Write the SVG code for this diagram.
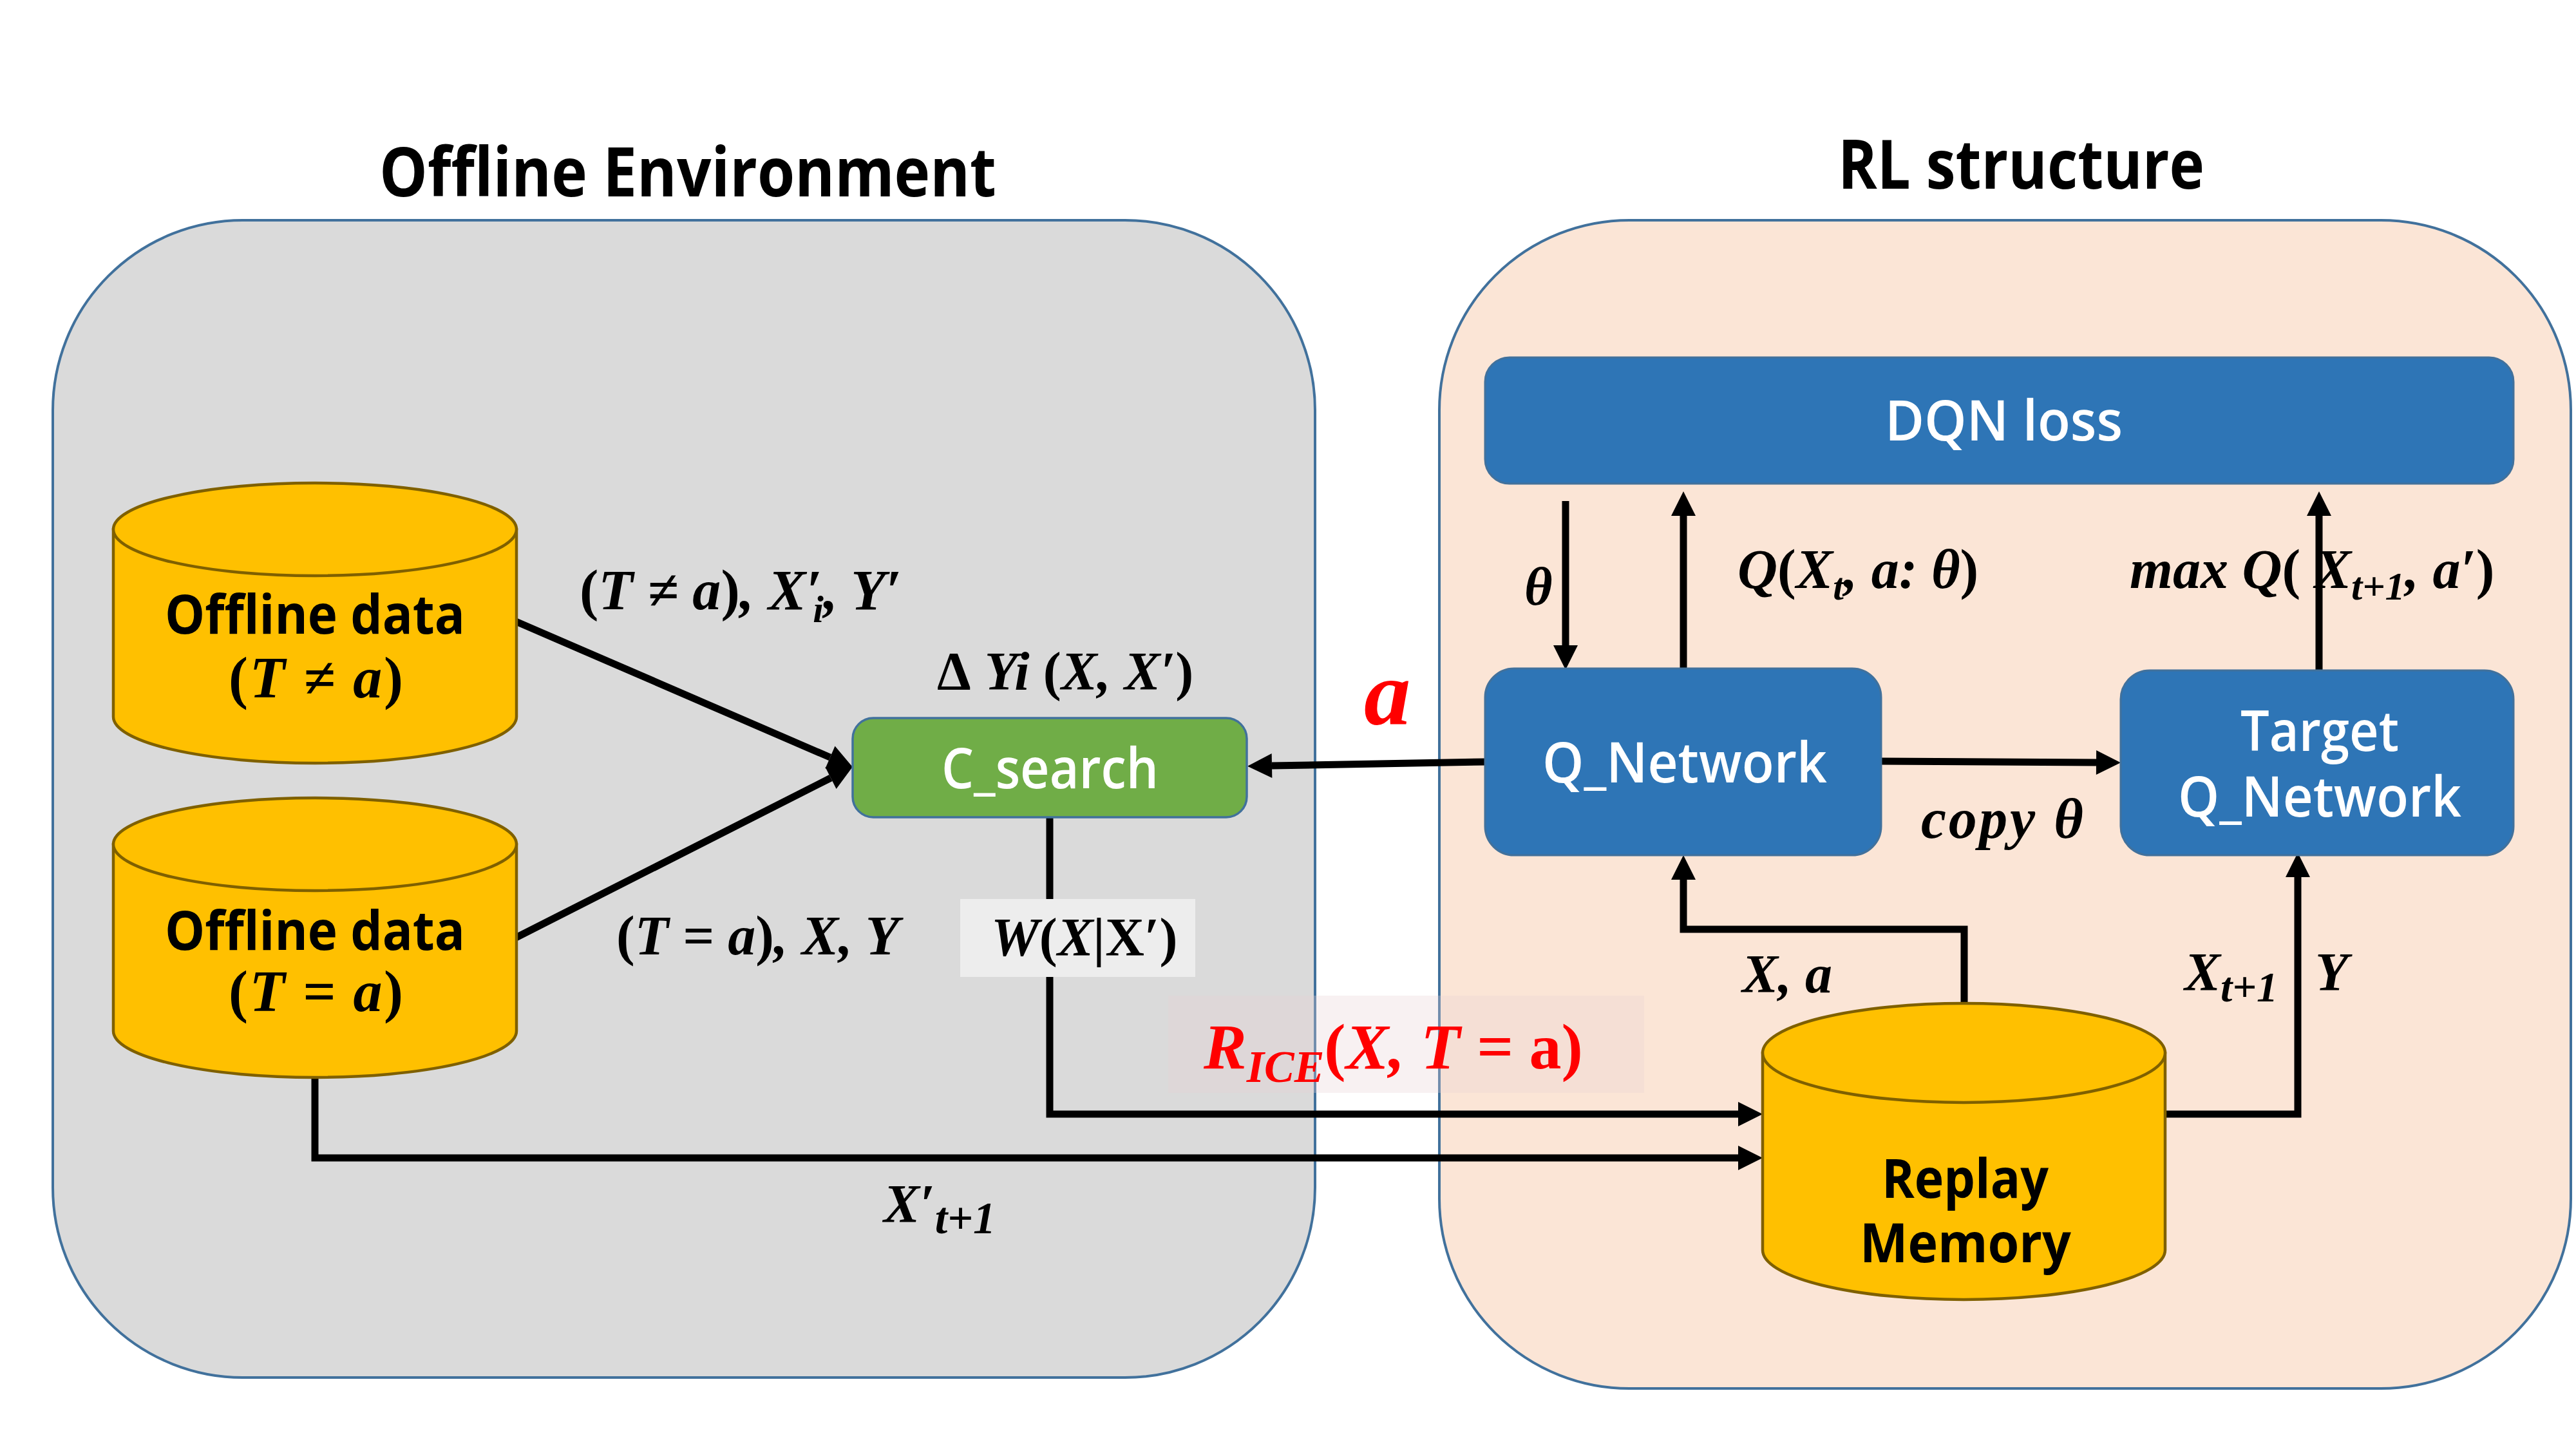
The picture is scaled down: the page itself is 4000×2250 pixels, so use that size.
<svg xmlns="http://www.w3.org/2000/svg" width="4000" height="2250" viewBox="0 0 4000 2250">
<defs>
<marker id="ah" markerUnits="userSpaceOnUse" markerWidth="38" markerHeight="38" refX="0" refY="19" orient="auto" overflow="visible">
<path d="M0,0 L38,19 L0,38 Z" fill="#000"/>
</marker>
<style>
.panel{stroke:#41719C;stroke-width:4}
.title{font-family:"Open Sans","Liberation Sans",sans-serif;font-weight:700;font-size:105px;fill:#000}
.box{fill:#2E75B6;stroke:#41719C;stroke-width:3}
.wlabel{font-family:"Open Sans","Liberation Sans",sans-serif;font-weight:600;font-size:86px;fill:#fff}
.cyl{fill:#FFC000;stroke:#7F6000;stroke-width:4.5}
.clabel{font-family:"Open Sans","Liberation Sans",sans-serif;font-weight:700;font-size:84px;fill:#000}
.math{font-family:"Liberation Serif","Times New Roman",serif;font-weight:700;font-style:italic;font-size:84px;fill:#000}
.up{font-style:normal}
.conn{fill:none;stroke:#000;stroke-width:11;stroke-linejoin:miter}
</style>
</defs>
<rect width="4000" height="2250" fill="#fff"/>

<g id="panels">
<g id="offline-environment">
<rect class="panel" x="82" y="342" width="1960" height="1797" rx="295" ry="295" fill="#DADADA"/>
<text class="title" x="589" y="305" textLength="958" lengthAdjust="spacingAndGlyphs">Offline Environment</text>
</g>
<g id="rl-structure">
<rect class="panel" x="2235" y="342" width="1757" height="1814" rx="295" ry="295" fill="#FBE5D6"/>
<text class="title" x="2854" y="293" textLength="569" lengthAdjust="spacingAndGlyphs">RL structure</text>
</g>
</g>

<g id="connectors">
<line class="conn" x1="801" y1="965" x2="1289" y2="1176" marker-end="url(#ah)"/>
<line class="conn" x1="801" y1="1456" x2="1290" y2="1208" marker-end="url(#ah)"/>
<line class="conn" x1="2306" y1="1183" x2="1975" y2="1189" marker-end="url(#ah)"/>
<line class="conn" x1="2921" y1="1182" x2="3255" y2="1184" marker-end="url(#ah)"/>
<line class="conn" x1="2431" y1="778" x2="2431" y2="1002" marker-end="url(#ah)"/>
<line class="conn" x1="2614" y1="1038" x2="2614" y2="801" marker-end="url(#ah)"/>
<line class="conn" x1="3601" y1="1041" x2="3601" y2="801" marker-end="url(#ah)"/>
<path class="conn" d="M1630,1270 V1730 H2699" marker-end="url(#ah)"/>
<path class="conn" d="M489,1673 V1798 H2699" marker-end="url(#ah)"/>
<path class="conn" d="M3050,1558 V1443 H2614 V1366" marker-end="url(#ah)"/>
<path class="conn" d="M3362,1730 H3568 V1362" marker-end="url(#ah)"/>
</g>

<g id="offline-data-neq">
<path class="cyl" d="M176,822 V1113 A313,72 0 0 0 802,1113 V822 Z"/>
<ellipse class="cyl" cx="489" cy="822" rx="313" ry="72"/>
<text class="clabel" x="256" y="984" textLength="466" lengthAdjust="spacingAndGlyphs">Offline data</text>
<text class="math" x="355" y="1083" textLength="271" style="font-size:90px"><tspan class="up">(</tspan>T ≠ a<tspan class="up">)</tspan></text>
</g>

<g id="offline-data-eq">
<path class="cyl" d="M176,1311 V1601 A313,72 0 0 0 802,1601 V1311 Z"/>
<ellipse class="cyl" cx="489" cy="1311" rx="313" ry="72"/>
<text class="clabel" x="256" y="1475" textLength="466" lengthAdjust="spacingAndGlyphs">Offline data</text>
<text class="math" x="355" y="1570" textLength="271" style="font-size:90px"><tspan class="up">(</tspan>T = a<tspan class="up">)</tspan></text>
</g>

<g id="c-search">
<rect x="1324" y="1115" width="612" height="154" rx="32" fill="#70AD47" stroke="#41719C" stroke-width="3.5"/>
<text class="wlabel" x="1462" y="1224" textLength="337" lengthAdjust="spacingAndGlyphs">C_search</text>
</g>

<g id="w-label">
<rect x="1491" y="1396" width="365" height="121" fill="#EDEDED"/>
<text class="math" x="1539" y="1484">W<tspan class="up">(</tspan>X|<tspan class="up">X′)</tspan></text>
</g>

<g id="dqn-loss">
<rect class="box" x="2306" y="555" width="1597" height="196" rx="38"/>
<text class="wlabel" x="2927" y="684" textLength="369" lengthAdjust="spacingAndGlyphs">DQN loss</text>
</g>

<g id="q-network">
<rect class="box" x="2306" y="1038" width="615" height="290" rx="45"/>
<text class="wlabel" x="2395" y="1215" textLength="442" lengthAdjust="spacingAndGlyphs">Q_Network</text>
</g>

<g id="target-q-network">
<rect class="box" x="3293" y="1041" width="610" height="287" rx="45"/>
<text class="wlabel" x="3479" y="1166" textLength="246" lengthAdjust="spacingAndGlyphs">Target</text>
<text class="wlabel" x="3382" y="1268" textLength="440" lengthAdjust="spacingAndGlyphs">Q_Network</text>
</g>

<g id="replay-memory">
<path class="cyl" d="M2737,1635 V1941 A312.5,77 0 0 0 3362,1941 V1635 Z"/>
<ellipse class="cyl" cx="3049.5" cy="1635" rx="312.5" ry="77"/>
<text class="clabel" x="2922" y="1860" textLength="259" lengthAdjust="spacingAndGlyphs">Replay</text>
<text class="clabel" x="2888" y="1960" textLength="328" lengthAdjust="spacingAndGlyphs">Memory</text>
</g>

<g id="r-ice">
<rect x="1814" y="1546" width="739" height="151" fill="#E7CFD3" fill-opacity="0.3"/>
<text class="math" x="1869" y="1659" style="fill:#FF0000;font-size:100px">R<tspan font-size="70" dy="21">ICE</tspan><tspan class="up" dy="-21">(</tspan>X, T = <tspan class="up">a)</tspan></text>
</g>

<g id="labels">
<text class="math" x="900" y="946" style="font-size:88px"><tspan class="up">(</tspan>T ≠ a<tspan class="up">)</tspan>, X′<tspan font-size="60" dx="-14" dy="20">i</tspan><tspan dy="-20">, Y′</tspan></text>
<text class="math" x="1455" y="1071"><tspan class="up">Δ</tspan> Yi <tspan class="up">(</tspan>X, X′<tspan class="up">)</tspan></text>
<text class="math" x="957" y="1482" style="font-size:86px"><tspan class="up">(</tspan>T = a<tspan class="up">)</tspan>, X, Y</text>
<text class="math" x="2118" y="1125" style="fill:#FF0000;font-size:145px">a</text>
<text class="math" x="2367" y="939">θ</text>
<text class="math" x="2698" y="913" style="font-size:86px">Q<tspan class="up">(</tspan>X<tspan font-size="60" dy="18">t</tspan><tspan dy="-18">, a: θ</tspan><tspan class="up">)</tspan></text>
<text class="math" x="3307" y="913" style="font-size:86px">max Q<tspan class="up">(</tspan>   X<tspan font-size="62" dy="18">t+1</tspan><tspan dy="-18">, a′</tspan><tspan class="up">)</tspan></text>
<text class="math" x="2983" y="1301" textLength="252" style="font-size:88px">copy θ</text>
<text class="math" x="2705" y="1541">X, a</text>
<text class="math" x="3392" y="1538">X<tspan font-size="66" dy="17">t+1</tspan></text>
<text class="math" x="3595" y="1538">Y</text>
<text class="math" x="1372" y="1898">X′<tspan font-size="70" dy="17">t+1</tspan></text>
</g>
</svg>
